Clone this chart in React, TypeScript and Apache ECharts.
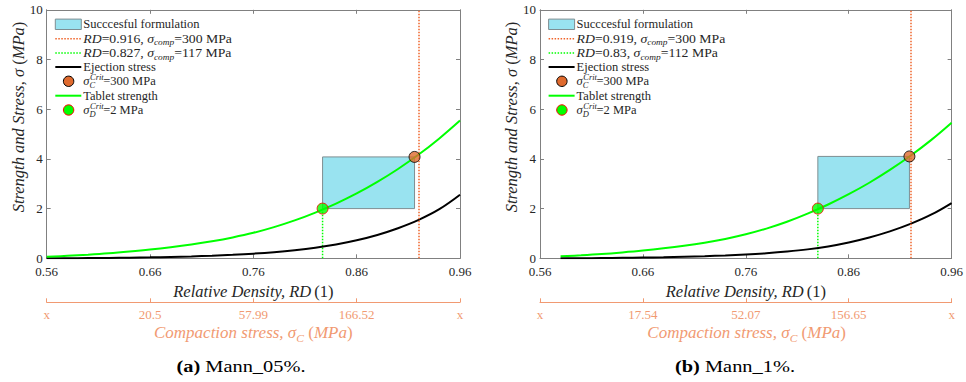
import React, { useEffect, useRef } from "react";
import * as echarts from "echarts";

// ---------- data ----------
const rdA = [0.56, 0.58, 0.6, 0.62, 0.64, 0.66, 0.68, 0.7, 0.72, 0.74, 0.76, 0.78, 0.8, 0.82, 0.84, 0.86, 0.88, 0.9, 0.92, 0.94, 0.96];
const strengthA = [0.06, 0.1, 0.145, 0.2, 0.27, 0.35, 0.445, 0.555, 0.685, 0.84, 1.025, 1.255, 1.525, 1.84, 2.2, 2.61, 3.075, 3.595, 4.175, 4.825, 5.545];
const ejectionA = [0, 0.003, 0.008, 0.015, 0.025, 0.038, 0.055, 0.077, 0.105, 0.141, 0.187, 0.247, 0.325, 0.425, 0.555, 0.725, 0.94, 1.21, 1.545, 1.975, 2.555];

const rdB = [0.58, 0.6, 0.62, 0.64, 0.66, 0.68, 0.7, 0.72, 0.74, 0.76, 0.78, 0.8, 0.82, 0.84, 0.86, 0.88, 0.9, 0.92, 0.94, 0.96];
const strengthB = [0.08, 0.12, 0.17, 0.235, 0.31, 0.4, 0.505, 0.63, 0.78, 0.965, 1.195, 1.47, 1.795, 2.165, 2.58, 3.04, 3.555, 4.125, 4.755, 5.455];
const ejectionB = [0, 0.004, 0.01, 0.018, 0.029, 0.043, 0.061, 0.084, 0.114, 0.153, 0.204, 0.271, 0.359, 0.479, 0.639, 0.839, 1.084, 1.384, 1.754, 2.224];

// [strength criterion point, compaction criterion point]
const critRdA = [0.827, 0.916];
const critSigmaA = [2, 4.08];
const compStressA = [117, 300];
const critRdB = [0.83, 0.919];
const critSigmaB = [2, 4.1];
const compStressB = [112, 300];
const sigmaCritC = 300;
const sigmaCritD = 2;

const xTicks = [0.56, 0.66, 0.76, 0.86, 0.96];
const compLabelsA = ["x", "20.5", "57.99", "166.52", "x"];
const compLabelsB = ["x", "17.54", "52.07", "156.65", "x"];
const captionTags = ["(a)", "(b)"];
const captionTexts = ["Mann_05%.", "Mann_1%."];

// ---------- style ----------
const FAM = "'Liberation Serif', 'DejaVu Serif', serif";
const AXIS_GRAY = "#808080";
const TEXT = "#262626";
const GREEN = "#00ff00";
const ORANGE_LINE = "#f0642a";
const ORANGE_MARK = "#df6a2e";
const SALMON = "#f19a72";
const CYAN = "#99e3f0";
const RECT_EDGE = "#7e8e92";

const GRID_LEFT = [46.7, 540];
const GRID_TOP = 9.8;
const GRID_W = 413.3;
const GRID_H = 248.5;

type Seg =
  | { k: "n" | "i" | "b" | "sub" | "sup"; t: string }
  | { k: "ss"; sup: string; sub: string };

let ctx: CanvasRenderingContext2D | null = null;
function tw(text: string, size: number, style = "normal", weight = "normal") {
  if (!ctx) ctx = document.createElement("canvas").getContext("2d");
  ctx!.font = `${style} ${weight} ${size}px ${FAM}`;
  return ctx!.measureText(text).width;
}
function mkText(text: string, x: number, y: number, size: number, style: string, weight: string, color: string, sx: number) {
  return {
    type: "text",
    x,
    y,
    scaleX: sx,
    silent: true,
    style: {
      text,
      fontFamily: FAM,
      fontSize: size,
      fontStyle: style,
      fontWeight: weight,
      fill: color,
      textAlign: "left",
      textVerticalAlign: "middle",
    },
  };
}
const SUBK = 0.68;
function segWidth(s: Seg, size: number) {
  if (s.k === "ss") {
    const ss = size * SUBK;
    return Math.max(tw(s.sup, ss, "italic"), tw(s.sub, ss, "italic"));
  }
  const sz = s.k === "sub" || s.k === "sup" ? size * SUBK : size;
  const st = s.k === "i" || s.k === "sub" || s.k === "sup" ? "italic" : "normal";
  return tw(s.t, sz, st, s.k === "b" ? "bold" : "normal");
}
function rowWidth(segs: Seg[], size: number, sx = 1) {
  return segs.reduce((a, s) => a + segWidth(s, size), 0) * sx;
}
function layoutRow(segs: Seg[], x: number, y: number, size: number, color: string, sx = 1) {
  const els: any[] = [];
  let cx = x;
  for (const s of segs) {
    if (s.k === "ss") {
      const ss = size * SUBK;
      els.push(mkText(s.sup, cx + 0.5, y - size * 0.33, ss, "italic", "normal", color, sx));
      els.push(mkText(s.sub, cx, y + size * 0.32, ss, "italic", "normal", color, sx));
    } else {
      const sz = s.k === "sub" || s.k === "sup" ? size * SUBK : size;
      const st = s.k === "i" || s.k === "sub" || s.k === "sup" ? "italic" : "normal";
      const wt = s.k === "b" ? "bold" : "normal";
      const dy = s.k === "sub" ? size * 0.3 : s.k === "sup" ? -size * 0.33 : 0;
      els.push(mkText(s.t, cx, y + dy, sz, st, wt, color, sx));
    }
    cx += segWidth(s, size) * sx;
  }
  return els;
}

function legendEls(p: number, critRd: number[], comp: number[]) {
  const L = GRID_LEFT[p] + 8.6;
  const rows = [24.3, 38.7, 53, 67, 81.3, 95.7, 110];
  const tx = L + 28;
  const FS = 12.5;
  const els: any[] = [];
  els.push({
    type: "rect",
    shape: { x: L, y: rows[0] - 5.2, width: 26, height: 10.4 },
    style: { fill: CYAN, stroke: RECT_EDGE, lineWidth: 1 },
  });
  const line = (y: number, color: string, dash: any, w: number) => ({
    type: "line",
    shape: { x1: L, y1: y, x2: L + 26, y2: y },
    style: { stroke: color, lineWidth: w, lineDash: dash },
  });
  els.push(line(rows[1], ORANGE_LINE, [1.5, 1.5], 1.5));
  els.push(line(rows[2], GREEN, [1.5, 1.5], 1.5));
  els.push(line(rows[3], "#000", null, 2));
  els.push({
    type: "circle",
    shape: { cx: L + 13.3, cy: rows[4], r: 5.2 },
    style: { fill: ORANGE_MARK, stroke: "#000", lineWidth: 1 },
  });
  els.push(line(rows[5], GREEN, null, 2));
  els.push({
    type: "circle",
    shape: { cx: L + 13.3, cy: rows[6], r: 5.2 },
    style: { fill: GREEN, stroke: "#ff0000", lineWidth: 1 },
  });
  const texts: Seg[][] = [
    [{ k: "n", t: "Succcesful formulation" }],
    [
      { k: "i", t: "RD" },
      { k: "n", t: `=${critRd[1]}, ` },
      { k: "i", t: "σ" },
      { k: "sub", t: "comp" },
      { k: "n", t: `=${comp[1]} MPa` },
    ],
    [
      { k: "i", t: "RD" },
      { k: "n", t: `=${critRd[0]}, ` },
      { k: "i", t: "σ" },
      { k: "sub", t: "comp" },
      { k: "n", t: `=${comp[0]} MPa` },
    ],
    [{ k: "n", t: "Ejection stress" }],
    [{ k: "i", t: "σ" }, { k: "ss", sup: "Crit", sub: "C" }, { k: "n", t: `=${sigmaCritC} MPa` }],
    [{ k: "n", t: "Tablet strength" }],
    [{ k: "i", t: "σ" }, { k: "ss", sup: "Crit", sub: "D" }, { k: "n", t: `=${sigmaCritD} MPa` }],
  ];
  const sxs = [1, 1.1, 1.1, 1, 1, 1, 1];
  texts.forEach((segs, i) => els.push(...layoutRow(segs, tx, rows[i], FS, TEXT, sxs[i])));
  return els;
}

function extraTextEls(p: number) {
  const els: any[] = [];
  const cx = GRID_LEFT[p] + GRID_W / 2;
  // y axis title (rotated)
  const ySegs: Seg[] = [
    { k: "i", t: "Strength and Stress, σ " },
    { k: "n", t: "(" },
    { k: "i", t: "MPa" },
    { k: "n", t: ")" },
  ];
  const yw = rowWidth(ySegs, 16.5);
  els.push({
    type: "group",
    x: GRID_LEFT[p] - 28.7,
    y: 117,
    rotation: Math.PI / 2,
    children: layoutRow(ySegs, -yw / 2, 0, 16.5, TEXT),
  });
  // compaction axis title
  const compSegs: Seg[] = [
    { k: "i", t: "Compaction stress, σ" },
    { k: "sub", t: "C" },
    { k: "n", t: " (" },
    { k: "i", t: "MPa" },
    { k: "n", t: ")" },
  ];
  const cw = rowWidth(compSegs, 16.5, 1.03);
  els.push(...layoutRow(compSegs, cx - cw / 2, 333, 16.5, SALMON, 1.03));
  // caption
  const capSegs: Seg[] = [
    { k: "b", t: captionTags[p] },
    { k: "n", t: " " + captionTexts[p] },
  ];
  const capCx = p === 0 ? 241 : 735;
  const capW = rowWidth(capSegs, 17, 1.2);
  els.push(...layoutRow(capSegs, capCx - capW / 2, 366, 17, "#000", 1.2));
  return els;
}

function buildOption() {
  const panels = [
    { rd: rdA, strength: strengthA, ejection: ejectionA, critRd: critRdA, critSigma: critSigmaA, comp: compStressA, compLabels: compLabelsA },
    { rd: rdB, strength: strengthB, ejection: ejectionB, critRd: critRdB, critSigma: critSigmaB, comp: compStressB, compLabels: compLabelsB },
  ];
  const grid: any[] = [];
  const xAxis: any[] = [];
  const yAxis: any[] = [];
  const series: any[] = [];
  const graphicEls: any[] = [];
  const nameRich = {
    i: { fontFamily: FAM, fontStyle: "italic", fontSize: 16.5, color: TEXT },
    n: { fontFamily: FAM, fontSize: 16.5, color: TEXT },
  };

  panels.forEach((P, p) => {
    grid.push({ left: GRID_LEFT[p], top: GRID_TOP, width: GRID_W, height: GRID_H });
    const baseX = {
      type: "value",
      gridIndex: p,
      min: 0.56,
      max: 0.96,
      splitLine: { show: false },
    };
    xAxis.push({
      ...baseX,
      position: "bottom",
      axisLine: { onZero: false, lineStyle: { color: AXIS_GRAY, width: 1 } },
      axisTick: { inside: true, length: 4, lineStyle: { color: AXIS_GRAY }, customValues: xTicks },
      axisLabel: {
        customValues: xTicks,
        margin: 7,
        color: TEXT,
        fontFamily: FAM,
        fontSize: 13,
        formatter: (v: number) => v.toFixed(2),
      },
      name: "{i|Relative Density, RD} {n|(1)}",
      nameLocation: "middle",
      nameGap: 22,
      nameTextStyle: { rich: nameRich },
    });
    xAxis.push({
      ...baseX,
      position: "top",
      axisLine: { onZero: false, lineStyle: { color: AXIS_GRAY, width: 1 } },
      axisTick: { inside: true, length: 4, lineStyle: { color: AXIS_GRAY }, customValues: xTicks },
      axisLabel: { show: false },
    });
    const labels = P.compLabels;
    xAxis.push({
      ...baseX,
      position: "bottom",
      offset: 44,
      axisLine: { onZero: false, lineStyle: { color: SALMON, width: 1 } },
      axisTick: { inside: true, length: 4, lineStyle: { color: SALMON }, customValues: xTicks },
      axisLabel: {
        customValues: xTicks,
        margin: 6,
        color: SALMON,
        fontFamily: FAM,
        fontSize: 13,
        formatter: (v: number) => {
          let best = 0;
          xTicks.forEach((t, i) => {
            if (Math.abs(t - v) < Math.abs(xTicks[best] - v)) best = i;
          });
          return labels[best];
        },
      },
    });
    yAxis.push({
      type: "value",
      gridIndex: p,
      min: 0,
      max: 10,
      interval: 2,
      position: "left",
      splitLine: { show: false },
      axisLine: { show: true, onZero: false, lineStyle: { color: AXIS_GRAY, width: 1 } },
      axisTick: { show: true, inside: true, length: 4, lineStyle: { color: AXIS_GRAY } },
      axisLabel: { margin: 4, color: TEXT, fontFamily: FAM, fontSize: 13, lineHeight: 11 },
    });
    yAxis.push({
      type: "value",
      gridIndex: p,
      min: 0,
      max: 10,
      interval: 2,
      position: "right",
      splitLine: { show: false },
      axisLine: { show: true, onZero: false, lineStyle: { color: AXIS_GRAY, width: 1 } },
      axisTick: { show: true, inside: true, length: 4, lineStyle: { color: AXIS_GRAY } },
      axisLabel: { show: false },
    });

    const xi = p * 3;
    const yi = p * 2;
    series.push({
      type: "line",
      name: "Succcesful formulation",
      xAxisIndex: xi,
      yAxisIndex: yi,
      data: [],
      z: 1,
      markArea: {
        silent: true,
        itemStyle: { color: CYAN, borderColor: RECT_EDGE, borderWidth: 1 },
        data: [[{ coord: [P.critRd[0], P.critSigma[0]] }, { coord: [P.critRd[1], P.critSigma[1]] }]],
      },
      markLine: {
        silent: true,
        symbol: ["none", "none"],
        label: { show: false },
        lineStyle: { color: ORANGE_LINE, type: [1.5, 1.5], width: 1.5 },
        data: [{ xAxis: P.critRd[1] }],
      },
    });
    series.push({
      type: "line",
      xAxisIndex: xi,
      yAxisIndex: yi,
      data: [
        [P.critRd[0], 0],
        [P.critRd[0], P.critSigma[0]],
      ],
      showSymbol: false,
      z: 2,
      lineStyle: { color: GREEN, type: [1.5, 1.5], width: 1.5 },
    });
    series.push({
      type: "line",
      name: "Ejection stress",
      xAxisIndex: xi,
      yAxisIndex: yi,
      data: P.rd.map((r, i) => [r, P.ejection[i]]),
      showSymbol: false,
      smooth: 0.4,
      z: 3,
      lineStyle: { color: "#000", width: 2 },
    });
    series.push({
      type: "line",
      name: "Tablet strength",
      xAxisIndex: xi,
      yAxisIndex: yi,
      data: P.rd.map((r, i) => [r, P.strength[i]]),
      showSymbol: false,
      smooth: 0.4,
      z: 3,
      lineStyle: { color: GREEN, width: 2 },
    });
    series.push({
      type: "scatter",
      xAxisIndex: xi,
      yAxisIndex: yi,
      data: [[P.critRd[1], P.critSigma[1]]],
      symbolSize: 11,
      z: 5,
      itemStyle: { color: ORANGE_MARK, borderColor: "#000", borderWidth: 1 },
    });
    series.push({
      type: "scatter",
      xAxisIndex: xi,
      yAxisIndex: yi,
      data: [[P.critRd[0], P.critSigma[0]]],
      symbolSize: 11,
      z: 5,
      itemStyle: { color: GREEN, borderColor: "#ff0000", borderWidth: 1 },
    });

    graphicEls.push(...legendEls(p, P.critRd, P.comp));
    graphicEls.push(...extraTextEls(p));
  });

  return {
    animation: false,
    backgroundColor: "#ffffff",
    textStyle: { fontFamily: FAM },
    grid,
    xAxis,
    yAxis,
    series,
    graphic: { elements: [{ type: "group", z: 100, children: graphicEls }] },
  };
}

export default function App() {
  const ref = useRef<HTMLDivElement>(null);
  useEffect(() => {
    if (!ref.current) return;
    const chart = echarts.init(ref.current, undefined, { renderer: "svg" });
    chart.setOption(buildOption() as any);
    return () => chart.dispose();
  }, []);
  return (
    <div
      ref={ref}
      style={{ position: "fixed", left: 0, top: 0, width: 966, height: 382, background: "#fff" }}
    />
  );
}
